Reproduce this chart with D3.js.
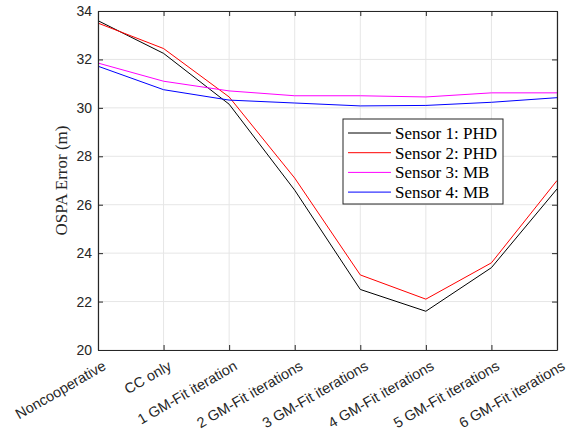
<!DOCTYPE html>
<html>
<head>
<meta charset="utf-8">
<script src="https://cdn.jsdelivr.net/npm/d3@7"></script>
<style>
body { margin: 0; background: white; }
</style>
</head>
<body>
<div id="vizContainer"></div>
<script>
let w = 576;
let h = 431;

let categories = ["Noncooperative", "CC only", "1 GM-Fit iteration", "2 GM-Fit iterations",
	"3 GM-Fit iterations", "4 GM-Fit iterations", "5 GM-Fit iterations", "6 GM-Fit iterations"];
let sensor1 = [33.6, 32.25, 30.15, 26.6, 22.5, 21.6, 23.4, 26.65];
let sensor2 = [33.5, 32.45, 30.45, 27.1, 23.1, 22.1, 23.6, 27.0];
let sensor3 = [31.85, 31.1, 30.7, 30.5, 30.5, 30.45, 30.62, 30.62];
let sensor4 = [31.72, 30.75, 30.32, 30.2, 30.08, 30.1, 30.23, 30.42];
let seriesNames = ["Sensor 1: PHD", "Sensor 2: PHD", "Sensor 3: MB", "Sensor 4: MB"];
let seriesColors = ["#000000", "#ff0000", "#ff00ff", "#0000ff"];
let yTicks = [20, 22, 24, 26, 28, 30, 32, 34];

let margin = {left: 98, right: 19, top: 11, bottom: 81};

let viz = d3.select('#vizContainer').append('svg')
	.attr('width', w)
	.attr('height', h)
	.style('background-color', 'white')
	;

let xScale = d3.scalePoint().domain(categories).range([margin.left, w - margin.right]);
let yScale = d3.scaleLinear().domain([20, 34]).range([h - margin.bottom, margin.top]);

// grid
let grid = viz.append('g');
grid.selectAll('.vg').data(categories).enter().append('line')
	.attr('x1', d => xScale(d)).attr('x2', d => xScale(d))
	.attr('y1', yScale(20)).attr('y2', yScale(34))
	.attr('stroke', '#e6e6e6').attr('stroke-width', 1);
grid.selectAll('.hg').data(yTicks).enter().append('line')
	.attr('y1', d => yScale(d)).attr('y2', d => yScale(d))
	.attr('x1', margin.left).attr('x2', w - margin.right)
	.attr('stroke', '#e6e6e6').attr('stroke-width', 1);

// lines
let allSeries = [sensor1, sensor2, sensor3, sensor4];
let line = d3.line()
	.x((d, i) => xScale(categories[i]))
	.y(d => yScale(d));

viz.append('g').selectAll('path').data(allSeries).enter().append('path')
	.attr('d', d => line(d))
	.attr('fill', 'none')
	.attr('stroke', (d, i) => seriesColors[i])
	.attr('stroke-width', 1);

// axes (matlab style, inward ticks, box)
let axisColor = '#262626';
let xAxis = viz.append('g')
	.attr('transform', 'translate(0,' + yScale(20) + ')')
	.call(d3.axisBottom(xScale).tickSizeInner(-5).tickSizeOuter(0).tickFormat(''));
let xTop = viz.append('g')
	.attr('transform', 'translate(0,' + yScale(34) + ')')
	.call(d3.axisTop(xScale).tickSizeInner(-5).tickSizeOuter(0).tickFormat(''));
let yAxis = viz.append('g')
	.attr('transform', 'translate(' + margin.left + ',0)')
	.call(d3.axisLeft(yScale).tickValues(yTicks).tickSizeInner(-5).tickSizeOuter(0).tickPadding(6));
let yRight = viz.append('g')
	.attr('transform', 'translate(' + (w - margin.right) + ',0)')
	.call(d3.axisRight(yScale).tickValues(yTicks).tickSizeInner(-5).tickSizeOuter(0).tickFormat(''));

[xAxis, xTop, yAxis, yRight].forEach(function(a){
	a.selectAll('path').attr('stroke', axisColor).attr('stroke-width', 1.2);
	a.selectAll('line').attr('stroke', axisColor);
});
yAxis.selectAll('text')
	.attr('fill', axisColor)
	.style('font-family', 'Liberation Sans, Arial, sans-serif')
	.style('font-size', '14px');

// rotated category labels
viz.append('g').selectAll('text').data(categories).enter().append('text')
	.attr('transform', d => 'translate(' + (xScale(d) + 4) + ',' + (yScale(20) + 10) + ') rotate(-30)')
	.attr('text-anchor', 'end')
	.attr('dy', '0.7em')
	.attr('fill', axisColor)
	.style('font-family', 'Liberation Sans, Arial, sans-serif')
	.style('font-size', '14.5px')
	.text(d => d);

// y label
viz.append('text')
	.attr('transform', 'translate(67,' + ((yScale(20) + yScale(34)) / 2) + ') rotate(-90)')
	.attr('text-anchor', 'middle')
	.attr('fill', axisColor)
	.style('font-family', 'Liberation Serif, Times New Roman, serif')
	.style('font-size', '17px')
	.text('OSPA Error (m)');

// legend
let legend = viz.append('g').attr('transform', 'translate(343,119)');
legend.append('rect')
	.attr('width', 160).attr('height', 85)
	.attr('fill', 'white').attr('stroke', axisColor).attr('stroke-width', 1);
seriesNames.forEach(function(name, i){
	let row = legend.append('g').attr('transform', 'translate(0,' + (14 + i * 19.7) + ')');
	row.append('line')
		.attr('x1', 5).attr('x2', 48)
		.attr('stroke', seriesColors[i]).attr('stroke-width', 1);
	row.append('text')
		.attr('x', 52).attr('dy', '0.35em')
		.attr('fill', '#000')
		.style('font-family', 'Liberation Serif, Times New Roman, serif')
		.style('font-size', '17px')
		.text(name);
});
</script>
</body>
</html>
